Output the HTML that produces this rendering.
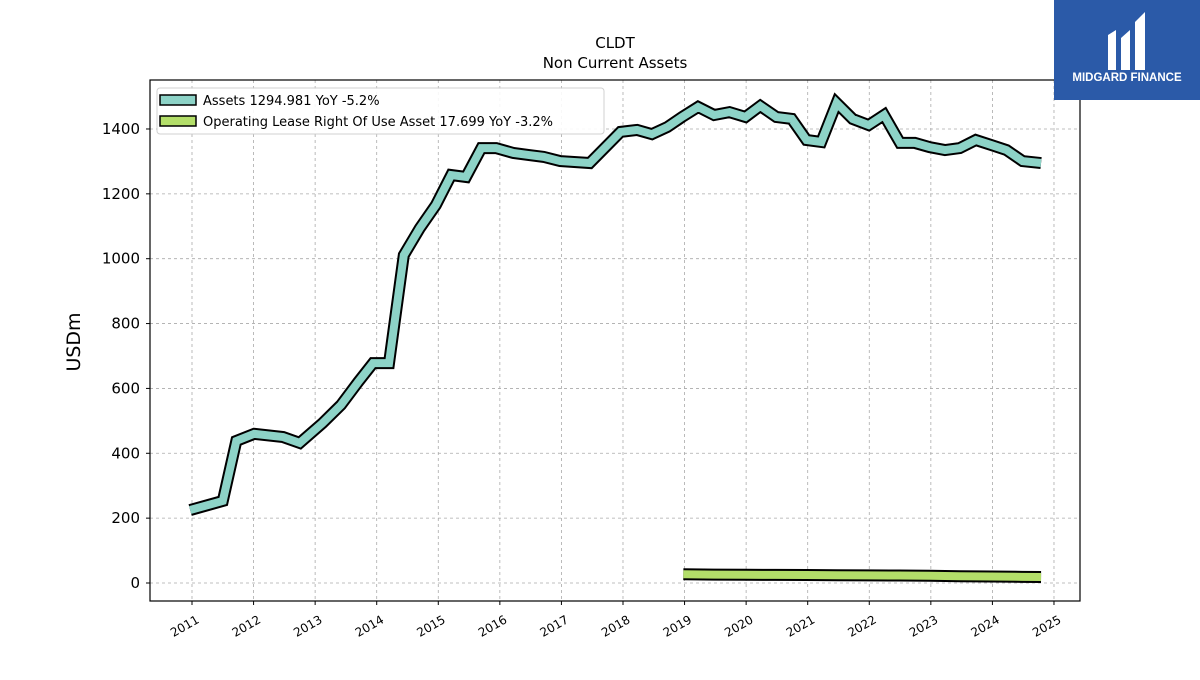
<!DOCTYPE html>
<html><head><meta charset="utf-8"><style>
body{margin:0;background:#fff;width:1200px;height:675px;overflow:hidden;font-family:"Liberation Sans","DejaVu Sans",sans-serif}
</style></head><body>
<svg id="chart" width="1200" height="675" xmlns="http://www.w3.org/2000/svg" font-family="DejaVu Sans, Liberation Sans, sans-serif">
<rect width="1200" height="675" fill="#fff"/>
<text x="615" y="48" font-size="15" text-anchor="middle">CLDT</text>
<text x="615" y="68" font-size="15" text-anchor="middle">Non Current  Assets</text>
<g id="grid"></g>
<g id="series"></g>
<rect x="150" y="80" width="930" height="521" fill="none" stroke="#000" stroke-width="1.2"/>
<g id="axes" font-size="15"></g>
<text x="0" y="0" font-size="19" text-anchor="middle" transform="translate(80,342) rotate(-90)">USDm</text>
<g>
<rect x="157" y="88" width="447" height="46" rx="3" fill="#fff" stroke="#ccc" opacity="0.9"/>
<rect x="160" y="95" width="36" height="10" fill="#8dd3c7" stroke="#000" stroke-width="1.5"/>
<text x="203" y="105" font-size="13">Assets  1294.981 YoY -5.2%</text>
<rect x="160" y="116" width="36" height="10" fill="#b3de69" stroke="#000" stroke-width="1.5"/>
<text x="203" y="126" font-size="13">Operating Lease Right Of Use Asset  17.699 YoY -3.2%</text>
</g>
<g>
<rect x="1054" y="0" width="146" height="100" fill="#2b5aa8"/>
<path d="M1108 35 L1116 30 L1116 70 L1108 70 Z M1121 38 L1130 30 L1130 70 L1121 70 Z M1135 22 L1145 12 L1145 70 L1135 70 Z" fill="#fff"/>
<text x="1127" y="81" font-size="11.5" font-weight="bold" fill="#fff" text-anchor="middle" font-family="Liberation Sans, sans-serif">MIDGARD FINANCE</text>
</g>
</svg>
<script>
const assetYears=[2010.97,2011.5,2011.72,2012.01,2012.48,2012.75,2013.12,2013.42,2013.7,2013.94,2014.2,2014.44,2014.7,2014.96,2015.21,2015.45,2015.7,2015.94,2016.22,2016.46,2016.71,2016.98,2017.46,2017.96,2018.23,2018.47,2018.72,2018.96,2019.22,2019.48,2019.73,2019.99,2020.23,2020.49,2020.74,2020.98,2021.22,2021.47,2021.73,2021.99,2022.24,2022.5,2022.74,2022.98,2023.23,2023.47,2023.73,2023.99,2024.23,2024.49,2024.79];
const assetValues=[225,253,438,460,450,432,493,549,620,678,678,1011,1094,1165,1258,1252,1341,1341,1326,1320,1314,1301,1295,1391,1397,1384,1406,1437,1468,1443,1452,1437,1471,1437,1431,1366,1360,1480,1431,1412,1443,1357,1357,1344,1335,1341,1366,1350,1335,1301,1295];
const leaseYears=[2018.98,2019.47,2019.98,2020.48,2020.98,2021.48,2021.98,2022.48,2022.98,2023.48,2023.98,2024.48,2024.79];
const leaseValues=[27,26,25.5,25,24.5,24,23.5,23,22.5,21,20,19,18.5];
const yTicks=[0,200,400,600,800,1000,1200,1400];
const xTicks=[2011,2012,2013,2014,2015,2016,2017,2018,2019,2020,2021,2022,2023,2024,2025];
const NS="http://www.w3.org/2000/svg";
const xs=y=>192+(y-2011)*61.57;
const ys=v=>583-v*0.3243;
const grid=document.getElementById('grid'),axes=document.getElementById('axes'),ser=document.getElementById('series');
function mk(tag,attrs,parent){const e=document.createElementNS(NS,tag);for(const k in attrs)e.setAttribute(k,attrs[k]);parent.appendChild(e);return e;}
yTicks.forEach(t=>{
 const g=mk('line',{x1:150,x2:1080,y1:ys(t),y2:ys(t),stroke:'#aaa','stroke-dasharray':'3,3','stroke-width':0.8},grid);
 
 
 mk('line',{x1:146,x2:150,y1:ys(t),y2:ys(t),stroke:'#000'},axes);
 const tx=mk('text',{x:140,y:ys(t)+5,'text-anchor':'end'},axes);tx.textContent=t;
 
 
});
xTicks.forEach(t=>{
 const g=mk('line',{y1:80,y2:601,x1:xs(t),x2:xs(t),stroke:'#aaa','stroke-dasharray':'3,3','stroke-width':0.8},grid);
 
 
 mk('line',{y1:601,y2:605,x1:xs(t),x2:xs(t),stroke:'#000'},axes);
 const tx=mk('text',{x:0,y:0,'font-size':12,'text-anchor':'end',transform:`translate(${xs(t)+8},${622}) rotate(-30)`},axes);tx.textContent=t;
 
 
});
function drawLine(years,vals,color,name){
 const pts=years.map((y,i)=>xs(y)+','+ys(vals[i])).join(' ');
 const o=mk('polyline',{points:pts,fill:'none',stroke:'#000','stroke-width':12,'stroke-linejoin':'miter','stroke-linecap':'butt'},ser);
 
 
 const l=mk('polyline',{points:pts,fill:'none',stroke:color,'stroke-width':8,'stroke-linejoin':'miter','stroke-linecap':'butt'},ser);
 
 
}
drawLine(leaseYears,leaseValues,'#b3de69','lease');
drawLine(assetYears,assetValues,'#8dd3c7','assets');
</script>
</body></html>
